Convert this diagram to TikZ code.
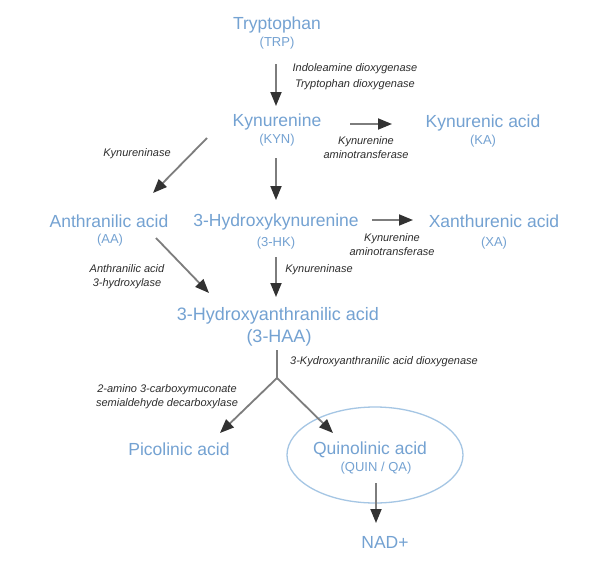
\documentclass[tikz,border=0pt]{standalone}
\usepackage{fontspec}
\setmainfont{Liberation Sans}
\usetikzlibrary{arrows.meta,shapes.geometric}
\definecolor{metab}{RGB}{116,162,210}
\definecolor{enz}{RGB}{45,45,45}
\definecolor{shaft}{RGB}{125,125,125}
\definecolor{tipc}{RGB}{50,50,50}
\definecolor{ringc}{RGB}{165,198,228}
\begin{document}
\begin{tikzpicture}[x=1pt,y=-1pt,
  big/.style={text=metab, font=\fontsize{17.5}{20}\selectfont, inner sep=0},
  huge/.style={text=metab, font=\fontsize{18}{21}\selectfont, inner sep=0},
  small/.style={text=metab, font=\fontsize{13}{15}\selectfont, inner sep=0},
  enzlbl/.style={text=enz, font=\fontsize{11}{14}\selectfont\itshape, align=center, inner sep=0},
  arr/.style={draw=shaft, line width=1.8pt, -{Triangle[length=14pt,width=11pt,color=tipc]}},
  plain/.style={draw=shaft, line width=1.8pt}
]
\useasboundingbox (0,0) rectangle (600,568);
\fill[white] (0,0) rectangle (600,568);

% metabolites
\node[big]   (trp)   at (277,25)  {Tryptophan};
\node[small] (trpab) at (277,43)  {(TRP)};
\node[big]   (kyn)   at (277,122) {Kynurenine};
\node[small] (kynab) at (277,140) {(KYN)};
\node[big]   (ka)    at (483,123) {Kynurenic acid};
\node[small] (kaab)  at (483,141) {(KA)};
\node[big]   (aa)    at (109,221) {Anthranilic acid};
\node[small] (aaab)  at (110,240) {(AA)};
\node[big]   (hk)    at (276,222) {3-Hydroxykynurenine};
\node[small] (hkab)  at (276,243) {(3-HK)};
\node[big]   (xa)    at (494,221) {Xanthurenic acid};
\node[small] (xaab)  at (494,243) {(XA)};
\node[huge]  (haa)   at (278,316) {3-Hydroxyanthranilic acid};
\node[huge]  (haaab) at (279,338) {(3-HAA)};
\node[big]   (pic)   at (179,449) {Picolinic acid};
\node[draw=ringc, line width=1.3pt, ellipse, minimum width=176pt, minimum height=96pt] (ring) at (375,455) {};
\node[big]   (qa)    at (370,450) {Quinolinic acid};
\node[small] (qaab)  at (376,468) {(QUIN / QA)};
\node[big]   (nad)   at (385,542) {NAD+};
\coordinate (br) at (277,378);

% enzymes
\node[enzlbl, font=\fontsize{11}{16}\selectfont\itshape] (e1) at (355,77) {Indoleamine dioxygenase\\Tryptophan dioxygenase};
\node[enzlbl] (e2) at (366,148) {Kynurenine\\aminotransferase};
\node[enzlbl] (e3) at (137,154) {Kynureninase};
\node[enzlbl] (e4) at (392,245) {Kynurenine\\aminotransferase};
\node[enzlbl] (e5) at (127,276.5) {Anthranilic acid\\3-hydroxylase};
\node[enzlbl] (e6) at (319,270) {Kynureninase};
\node[enzlbl] (e7) at (384,362) {3-Kydroxyanthranilic acid dioxygenase};
\node[enzlbl] (e8) at (167,396.5) {2-amino 3-carboxymuconate\\semialdehyde decarboxylase};

% connectors
\draw[arr] ([shift={(-1,21)}]trpab.center) -- ([shift={(-1,-16)}]kyn.center);
\draw[arr] ([shift={(73,2)}]kyn.center) -- ([shift={(-91,1)}]ka.center);
\draw[arr] ([shift={(-70,16)}]kyn.center) -- ([shift={(44,-28)}]aa.center);
\draw[arr] ([shift={(-1,18)}]kynab.center) -- ([shift={(0,-22)}]hk.center);
\draw[arr] ([shift={(96,-2)}]hk.center) -- ([shift={(-81,-1)}]xa.center);
\draw[arr] ([shift={(46,-2)}]aaab.center) -- ([shift={(-69,-23)}]haa.center);
\draw[arr] ([shift={(0,14)}]hkab.center) -- ([shift={(-2,-19)}]haa.center);
\draw[plain] ([shift={(-2,12)}]haaab.center) -- (br);
\draw[arr] (br) -- ([shift={(41,-16)}]pic.center);
\draw[arr] (br) -- ([shift={(-37,-17)}]qa.center);
\draw[arr] ([shift={(0,15)}]qaab.center) -- ([shift={(-9,-19)}]nad.center);
\end{tikzpicture}
\end{document}
